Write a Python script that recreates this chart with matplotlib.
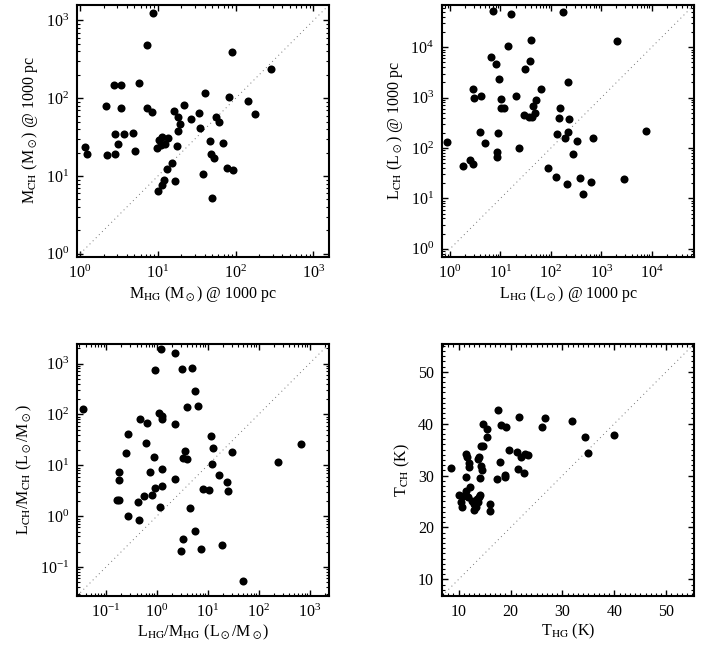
import numpy as np
import matplotlib
matplotlib.use('Agg')
import matplotlib.pyplot as plt
from matplotlib.ticker import LogLocator, MultipleLocator, NullFormatter

plt.rcParams['font.family'] = 'Liberation Serif'
plt.rcParams['mathtext.fontset'] = 'stix'
plt.rcParams['font.size'] = 11

# masses @ 1000 pc
m_hg = [8.76, 7.2, 89, 282, 5.8, 2.73, 3.37, 2.16, 3.33, 7.33, 8.5, 21.5, 40.8, 81.5, 143,
        177, 16.3, 18.0, 33.8, 26.5, 56, 60.6, 19.5, 34.9, 18.4, 11.3, 13.4, 10.3, 12.5, 10.9,
        9.7, 17.5, 46.4, 69.5, 47.9, 52.7, 76.9, 91.8, 15.2, 13.0, 38.1, 12.0, 16.8, 11.4, 10.1,
        50.2, 1.17, 1.24, 2.22, 2.79, 2.85, 3.68, 3.05, 4.84, 5.14]
m_ch = [1253, 490, 398, 235, 157, 147, 147, 78.7, 75, 75.7, 65.9, 82.7, 117, 104, 93,
        62.8, 68.6, 58, 64, 53.6, 58, 49, 46.7, 41, 37.5, 31.8, 31.1, 28.7, 25.8, 25.3,
        23.1, 24.3, 27.9, 26.3, 19.2, 17.2, 12.7, 12.1, 14.7, 12.2, 10.6, 8.88, 8.7, 7.57, 6.4,
        5.2, 23.8, 19, 18.6, 19.4, 35, 34.3, 26, 35.8, 21.2]

# luminosities @ 1000 pc
l_hg = [7.0, 16, 177, 14.2, 41, 2056, 6.6, 8.05, 38, 30.3, 9.4, 216, 2.86, 3.04, 4.19,
        20.7, 64.9, 10.3, 50.9, 10.3, 11.8, 43.7, 152, 29.4, 37.5, 41.7, 48.6, 145, 233, 3.94,
        9.1, 133, 219, 188, 331, 688, 7740, 0.885, 4.87, 23, 8.7, 8.7, 280, 1.78, 2.49,
        2.9, 89.3, 125, 385, 2876, 206, 637, 442]
l_ch = [5.15e4, 4.6e4, 5.0e4, 1.08e4, 1.36e4, 1.34e4, 6270, 4560, 5380, 3690, 2380, 2040, 1510, 986, 1097,
        1081, 1486, 929, 887, 635, 635, 676, 608, 449, 403, 416, 499, 386, 369, 207,
        195, 186, 210, 155, 140, 155, 217, 130, 124, 98.6, 84.8, 67.5, 77.4, 44.2, 58,
        48.4, 39.7, 26, 25.2, 24.1, 19.5, 21, 12.4]

# L/M ratios
lm_hg = [1.20, 2.32, 0.91, 3.09, 5.0, 5.56, 0.0348, 3.99, 6.37, 1.09, 1.24, 1.29, 0.471, 0.645, 2.32,
         0.274, 0.6, 11.6, 0.247, 3.54, 12.9, 30, 687, 236, 0.9, 3.28, 3.99, 12.4, 0.182, 0.72,
         1.27, 0.182, 16.7, 2.32, 24.3, 8.1, 10.6, 24.6, 0.91, 1.29, 0.162, 0.18, 0.556, 0.82, 0.43,
         1.13, 4.43, 0.266, 0.45, 5.73, 3.33, 3.05, 7.5, 19.4, 50]
lm_ch = [1960, 1637, 741, 787, 824, 289, 127, 137, 147, 106, 91, 82, 81, 68, 65,
         41.4, 27.7, 37.3, 17.4, 19, 22.1, 18.2, 26.4, 11.4, 14.3, 14.1, 13.3, 10.4, 7.5, 7.3,
         8.36, 5.18, 6.38, 5.34, 4.8, 3.41, 3.26, 3.16, 3.51, 3.84, 2.11, 2.05, 2.45, 2.6, 1.93,
         1.5, 1.43, 1.01, 0.85, 0.51, 0.356, 0.205, 0.228, 0.268, 0.054]

# temperatures
t_hg = [8.58, 17.66, 21.6, 26.6, 31.8, 26.15, 18.1, 19.2, 14.6, 15.4, 15.4, 14.3, 14.7, 19.7, 21.3,
        21.97, 22.7, 23.4, 11.5, 11.6, 12.0, 12.0, 13.9, 13.7, 14.4, 14.5, 18.0, 21.4, 22.5, 18.9,
        18.9, 17.3, 14.05, 11.4, 12.1, 11.35, 10.0, 10.8, 10.5, 10.6, 11.9, 12.6, 13.0, 12.95, 13.3,
        13.8, 14.0, 14.2, 13.6, 16.05, 16.05, 34.4, 35.0, 40.0]
t_ch = [31.5, 42.65, 41.3, 41.1, 40.5, 39.4, 39.8, 39.4, 39.9, 39.0, 37.4, 35.6, 35.7, 35.0, 34.5,
        33.5, 34.2, 34.0, 34.2, 33.6, 32.4, 31.6, 33.6, 33.2, 31.8, 31.1, 32.7, 31.2, 30.5, 30.2,
        29.8, 29.4, 29.6, 29.8, 27.8, 27.1, 26.2, 26.1, 24.9, 23.9, 25.8, 25.1, 24.6, 23.4, 24.0,
        24.9, 25.8, 26.3, 25.5, 24.5, 23.1, 37.4, 34.4, 37.8]

fig = plt.figure(figsize=(7.09, 6.48), dpi=100)

w, h = 0.3555, 0.3889
boxes = [[0.109, 0.604, w, h], [0.6238, 0.604, w, h],
         [0.109, 0.0807, w, h], [0.6238, 0.0807, w, h]]

panels = [
    (m_hg, m_ch, (0.92, 1600), True,
     r'M$_{\rm HG}$ (M$_\odot$) @ 1000 pc', r'M$_{\rm CH}$ (M$_\odot$) @ 1000 pc'),
    (l_hg, l_ch, (0.70, 7.0e4), True,
     r'L$_{\rm HG}$ (L$_\odot$) @ 1000 pc', r'L$_{\rm CH}$ (L$_\odot$) @ 1000 pc'),
    (lm_hg, lm_ch, (0.0274, 2450), True,
     r'L$_{\rm HG}$/M$_{\rm HG}$ (L$_\odot$/M$_\odot$)', r'L$_{\rm CH}$/M$_{\rm CH}$ (L$_\odot$/M$_\odot$)'),
    (t_hg, t_ch, (6.85, 55.4), False,
     r'T$_{\rm HG}$ (K)', r'T$_{\rm CH}$ (K)'),
]

for box, (x, y, lim, logscale, xlab, ylab) in zip(boxes, panels):
    ax = fig.add_axes(box)
    # one-to-one line
    ax.plot(lim, lim, color='0.45', lw=0.7, ls=(0, (1, 3.5)))
    ax.plot(x, y, 'o', color='black', ms=5.8, mec='none')
    if logscale:
        ax.set_xscale('log')
        ax.set_yscale('log')
        for axis in (ax.xaxis, ax.yaxis):
            axis.set_major_locator(LogLocator(base=10, numticks=20))
            axis.set_minor_locator(LogLocator(base=10, subs=np.arange(2, 10), numticks=20))
            axis.set_minor_formatter(NullFormatter())
    else:
        for axis in (ax.xaxis, ax.yaxis):
            axis.set_major_locator(MultipleLocator(10))
            axis.set_minor_locator(MultipleLocator(1))
    ax.set_xlim(lim)
    ax.set_ylim(lim)
    ax.tick_params(which='both', direction='in', top=True, right=True, labelsize=11.5, pad=6)
    ax.tick_params(which='major', length=4.5, width=1.0)
    ax.tick_params(which='minor', length=2.2, width=0.8)
    for sp in ax.spines.values():
        sp.set_linewidth(1.5)
    ax.set_xlabel(xlab, fontsize=11.5, labelpad=1)
    ax.set_ylabel(ylab, fontsize=11.5, labelpad=4)

fig.savefig('out.png', dpi=100)
